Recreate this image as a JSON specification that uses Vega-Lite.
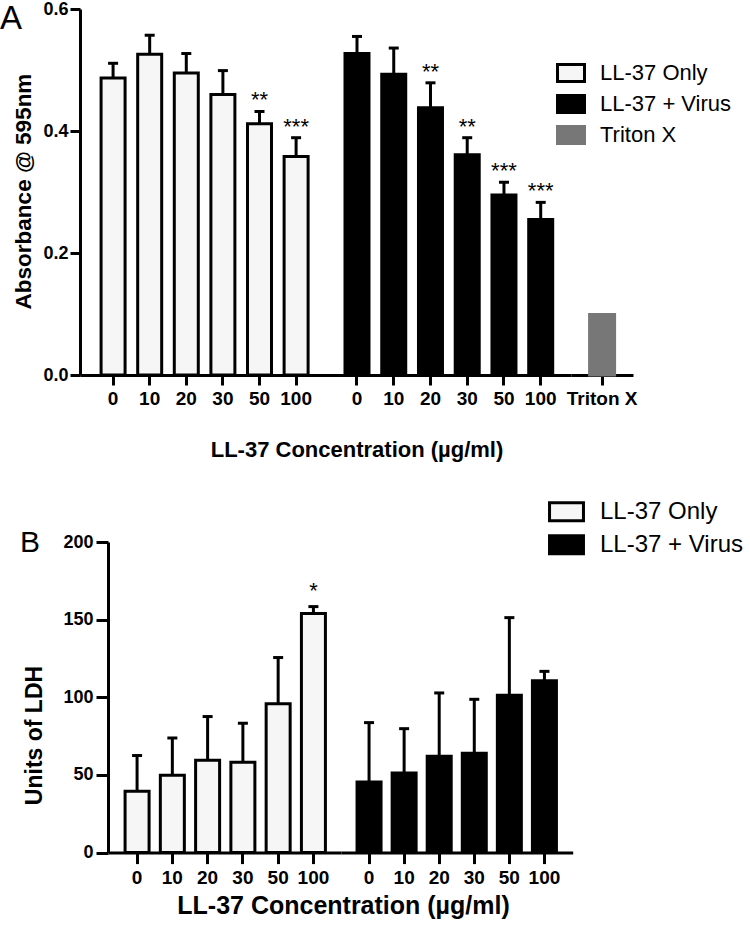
{
  "$schema": "https://vega.github.io/schema/vega-lite/v6.json",
  "padding": 0,
  "background": "white",
  "config": {
    "font": "Liberation Sans",
    "view": {"stroke": null},
    "axis": {
      "domainColor": "black", "domainWidth": 3, "tickColor": "black", "tickWidth": 3,
      "labelColor": "black", "labelFont": "Liberation Sans", "labelFontWeight": "bold", "labelFontSize": 18,
      "titleColor": "black", "titleFont": "Liberation Sans", "titleFontWeight": "bold", "titleFontSize": 20,
      "grid": false, "labelOverlap": false
    },
    "title": {"color": "black", "font": "Liberation Sans", "fontWeight": "normal"}
  },
  "datasets": {
    "d": [
      {"panel": "A", "group": "LL-37 Only", "conc": "0", "value": 0.487, "upper": 0.511},
      {"panel": "A", "group": "LL-37 Only", "conc": "10", "value": 0.526, "upper": 0.557},
      {"panel": "A", "group": "LL-37 Only", "conc": "20", "value": 0.495, "upper": 0.527},
      {"panel": "A", "group": "LL-37 Only", "conc": "30", "value": 0.46, "upper": 0.499},
      {"panel": "A", "group": "LL-37 Only", "conc": "50", "value": 0.412, "upper": 0.432, "sig": "**"},
      {"panel": "A", "group": "LL-37 Only", "conc": "100", "value": 0.358, "upper": 0.389, "sig": "***"},
      {"panel": "A", "group": "LL-37 + Virus", "conc": "0", "value": 0.527, "upper": 0.555},
      {"panel": "A", "group": "LL-37 + Virus", "conc": "10", "value": 0.493, "upper": 0.536},
      {"panel": "A", "group": "LL-37 + Virus", "conc": "20", "value": 0.438, "upper": 0.479, "sig": "**"},
      {"panel": "A", "group": "LL-37 + Virus", "conc": "30", "value": 0.361, "upper": 0.389, "sig": "**"},
      {"panel": "A", "group": "LL-37 + Virus", "conc": "50", "value": 0.295, "upper": 0.316, "sig": "***"},
      {"panel": "A", "group": "LL-37 + Virus", "conc": "100", "value": 0.255, "upper": 0.283, "sig": "***"},
      {"panel": "A", "group": "Triton X", "conc": "Triton X", "value": 0.099},
      {"panel": "B", "group": "LL-37 Only", "conc": "0", "value": 39.5, "upper": 62.5},
      {"panel": "B", "group": "LL-37 Only", "conc": "10", "value": 49.8, "upper": 73.8},
      {"panel": "B", "group": "LL-37 Only", "conc": "20", "value": 59.4, "upper": 87.6},
      {"panel": "B", "group": "LL-37 Only", "conc": "30", "value": 58.1, "upper": 83.3},
      {"panel": "B", "group": "LL-37 Only", "conc": "50", "value": 95.9, "upper": 125.6},
      {"panel": "B", "group": "LL-37 Only", "conc": "100", "value": 153.9, "upper": 158.4, "sig": "*"},
      {"panel": "B", "group": "LL-37 + Virus", "conc": "0", "value": 45.5, "upper": 83.7},
      {"panel": "B", "group": "LL-37 + Virus", "conc": "10", "value": 51.3, "upper": 79.8},
      {"panel": "B", "group": "LL-37 + Virus", "conc": "20", "value": 62.0, "upper": 102.8},
      {"panel": "B", "group": "LL-37 + Virus", "conc": "30", "value": 63.9, "upper": 98.7},
      {"panel": "B", "group": "LL-37 + Virus", "conc": "50", "value": 101.3, "upper": 151.3},
      {"panel": "B", "group": "LL-37 + Virus", "conc": "100", "value": 110.6, "upper": 116.7}
    ]
  },
  "spacing": 35,
  "resolve": {
    "scale": {"fill": "independent", "stroke": "independent", "y": "independent"},
    "legend": {"fill": "independent", "stroke": "independent"}
  },
  "vconcat": [
    {
      "title": {"text": "A", "anchor": "start", "frame": "group", "fontSize": 33, "fontWeight": "normal", "dx": -80, "dy": 62, "offset": 0, "baseline": "alphabetic"},
      "width": 553,
      "height": 366,
      "data": {"name": "d"},
      "transform": [{"filter": "datum.panel === 'A'"}],
      "resolve": {"scale": {"x": "independent"}, "axis": {"x": "independent"}},
      "layer": [
        {
          "transform": [{"filter": "datum.group === 'LL-37 Only'"}],
          "encoding": {
            "x": {"field": "conc", "type": "nominal", "sort": ["0", "10", "20", "30", "50", "100"],
              "scale": {"range": [0, 246.5], "paddingInner": 0, "paddingOuter": 0.367, "align": 0.55},
              "axis": {"orient": "bottom", "labelAngle": 0, "tickSize": 10, "labelPadding": 4, "labelFontSize": 19,
                "title": "LL-37 Concentration (µg/ml)", "titleFontSize": 22, "titleX": 276.5, "titleY": 81, "titleBaseline": "alphabetic", "titleAlign": "center"}}
          },
          "layer": [
            {"mark": {"type": "bar", "width": 24, "strokeWidth": 3},
              "encoding": {
                "y": {"field": "value", "type": "quantitative", "scale": {"domain": [0, 0.6], "nice": false},
                  "axis": {"title": "Absorbance @ 595nm", "values": [0, 0.2, 0.4, 0.6], "format": ".1f", "tickSize": 10, "labelPadding": 2,
                    "titleX": -57, "titleY": 182, "titleAngle": -90, "titleAlign": "center", "titleBaseline": "middle", "titleFontSize": 22.5}},
                "fill": {"field": "group", "type": "nominal", "scale": {"domain": ["LL-37 Only", "LL-37 + Virus", "Triton X"], "range": ["#f6f6f6", "#000000", "#777777"]},
                  "legend": {"title": null, "orient": "none", "legendX": 476, "legendY": 49, "padding": 0, "symbolType": "M-1,-0.63H1V0.63H-1Z", "symbolSize": 729, "symbolStrokeWidth": 3, "labelFontSize": 22, "labelFont": "Liberation Sans", "labelColor": "black", "labelOffset": 14, "rowPadding": 1}},
                "stroke": {"field": "group", "type": "nominal", "scale": {"domain": ["LL-37 Only", "LL-37 + Virus", "Triton X"], "range": ["#000000", "#000000", "#777777"]},
                  "legend": {"title": null, "orient": "none", "legendX": 476, "legendY": 49, "padding": 0, "symbolType": "M-1,-0.63H1V0.63H-1Z", "symbolSize": 729, "symbolStrokeWidth": 3, "labelFontSize": 22, "labelFont": "Liberation Sans", "labelColor": "black", "labelOffset": 14, "rowPadding": 1}}
              }},
            {"mark": {"type": "rule", "strokeWidth": 3, "color": "black"},
              "encoding": {"y": {"field": "value", "type": "quantitative", "scale": {"domain": [0, 0.6], "nice": false}}, "y2": {"field": "upper"}}},
            {"mark": {"type": "tick", "orient": "horizontal", "size": 10, "thickness": 3, "color": "black", "opacity": 1},
              "encoding": {"y": {"field": "upper", "type": "quantitative", "scale": {"domain": [0, 0.6], "nice": false}}}},
            {"transform": [{"filter": "isValid(datum.sig)"}],
              "mark": {"type": "text", "baseline": "alphabetic", "dy": -4, "fontSize": 22, "color": "black", "font": "Liberation Sans"},
              "encoding": {"y": {"field": "upper", "type": "quantitative", "scale": {"domain": [0, 0.6], "nice": false}}, "text": {"field": "sig"}}}
          ]
        },
        {
          "transform": [{"filter": "datum.group === 'LL-37 + Virus'"}],
          "encoding": {
            "x": {"field": "conc", "type": "nominal", "sort": ["0", "10", "20", "30", "50", "100"],
              "scale": {"range": [246.5, 491.2], "paddingInner": 0, "paddingOuter": 0.33, "align": 0.5},
              "axis": {"orient": "bottom", "labelAngle": 0, "tickSize": 10, "labelPadding": 4, "labelFontSize": 19, "title": null}}
          },
          "layer": [
            {"mark": {"type": "bar", "width": 24, "strokeWidth": 3},
              "encoding": {
                "y": {"field": "value", "type": "quantitative", "scale": {"domain": [0, 0.6], "nice": false}},
                "fill": {"field": "group", "type": "nominal", "scale": {"domain": ["LL-37 Only", "LL-37 + Virus", "Triton X"], "range": ["#f6f6f6", "#000000", "#777777"]}},
                "stroke": {"field": "group", "type": "nominal", "scale": {"domain": ["LL-37 Only", "LL-37 + Virus", "Triton X"], "range": ["#000000", "#000000", "#777777"]}}
              }},
            {"mark": {"type": "rule", "strokeWidth": 3, "color": "black"},
              "encoding": {"y": {"field": "value", "type": "quantitative", "scale": {"domain": [0, 0.6], "nice": false}}, "y2": {"field": "upper"}}},
            {"mark": {"type": "tick", "orient": "horizontal", "size": 10, "thickness": 3, "color": "black", "opacity": 1},
              "encoding": {"y": {"field": "upper", "type": "quantitative", "scale": {"domain": [0, 0.6], "nice": false}}}},
            {"transform": [{"filter": "isValid(datum.sig)"}],
              "mark": {"type": "text", "baseline": "alphabetic", "dy": -4, "fontSize": 22, "color": "black", "font": "Liberation Sans"},
              "encoding": {"y": {"field": "upper", "type": "quantitative", "scale": {"domain": [0, 0.6], "nice": false}}, "text": {"field": "sig"}}}
          ]
        },
        {
          "transform": [{"filter": "datum.group === 'Triton X'"}],
          "encoding": {
            "x": {"field": "conc", "type": "nominal",
              "scale": {"range": [491.2, 553], "paddingInner": 0, "paddingOuter": 0.3, "align": 0.5},
              "axis": {"orient": "bottom", "labelAngle": 0, "tickSize": 10, "labelPadding": 4, "labelFontSize": 19, "title": null}}
          },
          "layer": [
            {"mark": {"type": "bar", "width": 25, "strokeWidth": 3},
              "encoding": {
                "y": {"field": "value", "type": "quantitative", "scale": {"domain": [0, 0.6], "nice": false}},
                "fill": {"field": "group", "type": "nominal", "scale": {"domain": ["LL-37 Only", "LL-37 + Virus", "Triton X"], "range": ["#f6f6f6", "#000000", "#777777"]}},
                "stroke": {"field": "group", "type": "nominal", "scale": {"domain": ["LL-37 Only", "LL-37 + Virus", "Triton X"], "range": ["#000000", "#000000", "#777777"]}}
              }}
          ]
        }
      ]
    },
    {
      "title": {"text": "B", "anchor": "start", "frame": "group", "fontSize": 30, "fontWeight": "normal", "dx": -60, "dy": 85.8, "offset": 0, "baseline": "alphabetic"},
      "width": 493,
      "height": 310.6,
      "data": {"name": "d"},
      "transform": [{"filter": "datum.panel === 'B'"}],
      "resolve": {"scale": {"x": "independent"}, "axis": {"x": "independent"}},
      "layer": [
        {
          "transform": [{"filter": "datum.group === 'LL-37 Only'"}],
          "encoding": {
            "x": {"field": "conc", "type": "nominal", "sort": ["0", "10", "20", "30", "50", "100"],
              "scale": {"range": [28, 261.2], "paddingInner": 0, "paddingOuter": 0.306, "align": 0.53},
              "axis": {"orient": "bottom", "labelAngle": 0, "tickSize": 11, "labelPadding": 5, "labelFontSize": 19,
                "title": "LL-37 Concentration (µg/ml)", "titleFontSize": 25, "titleX": 263, "titleY": 61, "titleBaseline": "alphabetic", "titleAlign": "center"}}
          },
          "layer": [
            {"mark": {"type": "bar", "width": 24, "strokeWidth": 3},
              "encoding": {
                "y": {"field": "value", "type": "quantitative", "scale": {"domain": [0, 200], "nice": false},
                  "axis": {"title": "Units of LDH", "values": [0, 50, 100, 150, 200], "offset": -28, "tickSize": 12, "labelPadding": 3,
                    "titleX": -74, "titleY": 193, "titleAngle": -90, "titleAlign": "center", "titleBaseline": "middle", "titleFontSize": 23}},
                "fill": {"field": "group", "type": "nominal", "scale": {"domain": ["LL-37 Only", "LL-37 + Virus"], "range": ["#f6f6f6", "#000000"]},
                  "legend": {"title": null, "orient": "none", "legendX": 470.5, "legendY": -46.2, "padding": 0, "symbolType": "M-1.17,-0.62H1.17V0.62H-1.17Z", "symbolSize": 841, "symbolStrokeWidth": 3, "labelFontSize": 24, "labelFont": "Liberation Sans", "labelColor": "black", "labelOffset": 17.5, "rowPadding": 2}},
                "stroke": {"field": "group", "type": "nominal", "scale": {"domain": ["LL-37 Only", "LL-37 + Virus"], "range": ["#000000", "#000000"]},
                  "legend": {"title": null, "orient": "none", "legendX": 470.5, "legendY": -46.2, "padding": 0, "symbolType": "M-1.17,-0.62H1.17V0.62H-1.17Z", "symbolSize": 841, "symbolStrokeWidth": 3, "labelFontSize": 24, "labelFont": "Liberation Sans", "labelColor": "black", "labelOffset": 17.5, "rowPadding": 2}}
              }},
            {"mark": {"type": "rule", "strokeWidth": 3, "color": "black"},
              "encoding": {"y": {"field": "value", "type": "quantitative", "scale": {"domain": [0, 200], "nice": false}}, "y2": {"field": "upper"}}},
            {"mark": {"type": "tick", "orient": "horizontal", "size": 10, "thickness": 3, "color": "black", "opacity": 1},
              "encoding": {"y": {"field": "upper", "type": "quantitative", "scale": {"domain": [0, 200], "nice": false}}}},
            {"transform": [{"filter": "isValid(datum.sig)"}],
              "mark": {"type": "text", "baseline": "alphabetic", "dy": -9, "fontSize": 22, "color": "black", "font": "Liberation Sans"},
              "encoding": {"y": {"field": "upper", "type": "quantitative", "scale": {"domain": [0, 200], "nice": false}}, "text": {"field": "sig"}}}
          ]
        },
        {
          "transform": [{"filter": "datum.group === 'LL-37 + Virus'"}],
          "encoding": {
            "x": {"field": "conc", "type": "nominal", "sort": ["0", "10", "20", "30", "50", "100"],
              "scale": {"range": [261.2, 492.7], "paddingInner": 0, "paddingOuter": 0.3, "align": 0.49},
              "axis": {"orient": "bottom", "labelAngle": 0, "tickSize": 11, "labelPadding": 5, "labelFontSize": 19, "title": null}}
          },
          "layer": [
            {"mark": {"type": "bar", "width": 24, "strokeWidth": 3},
              "encoding": {
                "y": {"field": "value", "type": "quantitative", "scale": {"domain": [0, 200], "nice": false}},
                "fill": {"field": "group", "type": "nominal", "scale": {"domain": ["LL-37 Only", "LL-37 + Virus"], "range": ["#f6f6f6", "#000000"]}},
                "stroke": {"field": "group", "type": "nominal", "scale": {"domain": ["LL-37 Only", "LL-37 + Virus"], "range": ["#000000", "#000000"]}}
              }},
            {"mark": {"type": "rule", "strokeWidth": 3, "color": "black"},
              "encoding": {"y": {"field": "value", "type": "quantitative", "scale": {"domain": [0, 200], "nice": false}}, "y2": {"field": "upper"}}},
            {"mark": {"type": "tick", "orient": "horizontal", "size": 10, "thickness": 3, "color": "black", "opacity": 1},
              "encoding": {"y": {"field": "upper", "type": "quantitative", "scale": {"domain": [0, 200], "nice": false}}}}
          ]
        }
      ]
    }
  ]
}
